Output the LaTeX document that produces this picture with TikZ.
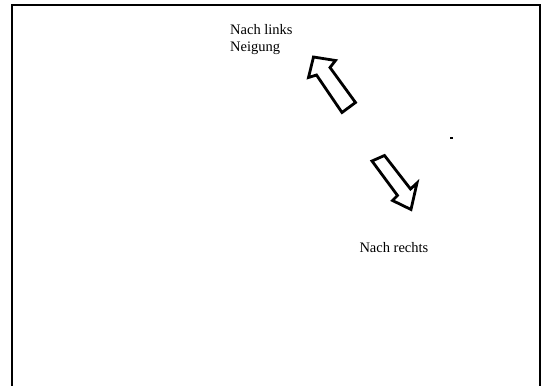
\documentclass[tikz,border=0pt]{standalone}
\usepackage{fontspec}
\setmainfont{Liberation Serif}
\tikzset{
    frameline/.style={line width=2pt},
    tiltarrow/.style={draw, line width=2.8pt, line join=miter, fill=white},
    tilttext/.style={anchor=base west, inner sep=0pt, align=left, font=\fontsize{14.5}{17}\selectfont},
}

\begin{document}
\begin{tikzpicture}[x=1pt, y=-1pt]
    \useasboundingbox (0,0) rectangle (542,386);
    \draw[frameline] (12,386) -- (12,5) -- (540.3,5) -- (540.3,386);

    \node[tilttext] (links) at (230,51) {Nach links\\Neigung};
    \node[tilttext] (rechts) at (359.3,252) {Nach rechts};

    % Neigung nach links
    \draw[tiltarrow] (313.5,57) -- (308.5,77.5) -- (316.5,75) -- (342,112.5)
        -- (355.5,102.5) -- (330,67.5) -- (335.5,60.5) -- cycle;
    % Neigung nach rechts
    \draw[tiltarrow] (372,161) -- (384.5,155.5) -- (410.5,189) -- (417,183)
        -- (411,209.5) -- (392.5,200.5) -- (397.5,195.5) -- cycle;

    \fill (450.2,136.8) rectangle (452.5,138.6);
\end{tikzpicture}
\end{document}
